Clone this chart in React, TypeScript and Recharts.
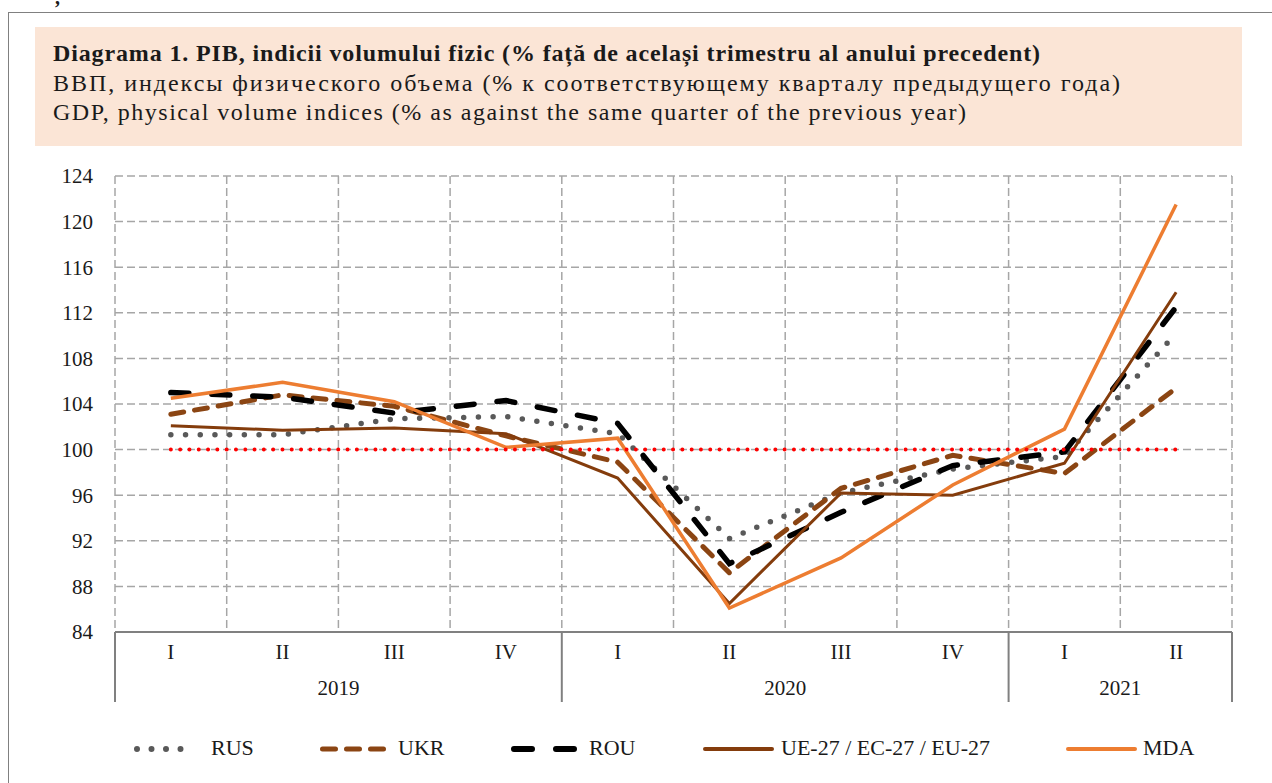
import React from "react";
import { LineChart, Line, XAxis, YAxis, CartesianGrid } from "recharts";

const quarters = ["I", "II", "III", "IV", "I", "II", "III", "IV", "I", "II"];
const years = ["2019", "2019", "2019", "2019", "2020", "2020", "2020", "2020", "2021", "2021"];
const rus = [101.3, 101.3, 102.7, 102.9, 101.4, 92.2, 96.2, 98.3, 99.4, 110.2];
const ukr = [103.1, 104.8, 103.8, 101.2, 98.9, 89.2, 96.6, 99.5, 97.9, 105.4];
const rou = [105.0, 104.6, 103.2, 104.3, 102.3, 90.0, 94.5, 98.6, 99.8, 112.5];
const eu27 = [102.1, 101.7, 101.9, 101.4, 97.5, 86.5, 96.2, 96.0, 98.8, 113.8];
const mda = [104.5, 105.9, 104.2, 100.2, 101.0, 86.1, 90.5, 96.9, 101.8, 121.5];
const base100 = [100, 100, 100, 100, 100, 100, 100, 100, 100, 100];
const yTicks = [84, 88, 92, 96, 100, 104, 108, 112, 116, 120, 124];

const data = quarters.map((q, i) => ({
  key: `${years[i]}-${q}`,
  q,
  year: years[i],
  rus: rus[i],
  ukr: ukr[i],
  rou: rou[i],
  eu27: eu27[i],
  mda: mda[i],
  base: base100[i],
}));

const W = 1272;
const H = 783;
const PLOT_LEFT = 115;
const PLOT_RIGHT = 1232;
const PLOT_TOP = 176;
const PLOT_BOTTOM = 632;
const BAND = (PLOT_RIGHT - PLOT_LEFT) / quarters.length;
const FONT = "'Liberation Serif', serif";
const TEXT = "#1a1a1a";
const BROWN = "#843C0C";
const ORANGE = "#ED7D31";
const GREY = "#595959";

const gridX = Array.from({ length: quarters.length + 1 }, (_, i) => PLOT_LEFT + i * BAND);

function QuarterTick(props: any) {
  const { x, payload } = props;
  const i: number = props.index ?? payload.index ?? 0;
  const row = data[i];
  if (!row) return null;
  const first = i === 0 || years[i - 1] !== row.year;
  const last = i === data.length - 1;
  const groupLen = years.filter((yy) => yy === row.year).length;
  const axisY = PLOT_BOTTOM;
  return (
    <g>
      <text x={x} y={axisY + 27} textAnchor="middle" fontSize={21} fontFamily={FONT} fill={TEXT}>
        {row.q}
      </text>
      {first && (
        <>
          <line x1={x - BAND / 2} x2={x - BAND / 2} y1={axisY} y2={axisY + 70} stroke="#808080" strokeWidth={2} />
          <text
            x={x + ((groupLen - 1) * BAND) / 2}
            y={axisY + 63}
            textAnchor="middle"
            fontSize={21}
            fontFamily={FONT}
            fill={TEXT}
          >
            {row.year}
          </text>
        </>
      )}
      {last && <line x1={x + BAND / 2} x2={x + BAND / 2} y1={axisY} y2={axisY + 70} stroke="#808080" strokeWidth={2} />}
    </g>
  );
}

const legendItems = [
  { label: "RUS", x1: 137, x2: 195, tx: 211, stroke: GREY, w: 6, dash: "0 14.5" },
  { label: "UKR", x1: 322.5, x2: 383.5, tx: 398, stroke: "#8B4513", w: 5, dash: "13 11" },
  { label: "ROU", x1: 514, x2: 575, tx: 589, stroke: "#000", w: 6, dash: "18 24" },
  { label: "UE-27 / EC-27 / EU-27", x1: 705, x2: 772, tx: 781, stroke: BROWN, w: 4, dash: undefined },
  { label: "MDA", x1: 1068, x2: 1135, tx: 1143, stroke: ORANGE, w: 4, dash: undefined },
];

const titleLines = [
  { text: "Diagrama 1. PIB, indicii volumului fizic (% față de același trimestru al anului precedent)", bold: true, len: 987 },
  { text: "ВВП, индексы физического объема (% к соответствующему кварталу предыдущего года)", bold: false, len: 1067 },
  { text: "GDP, physical volume indices (% as against the same quarter of the previous year)", bold: false, len: 913 },
];

export default function App() {
  return (
    <div style={{ position: "fixed", left: 0, top: 0, width: W, height: H, background: "#fff", overflow: "hidden" }}>
      <div style={{ position: "absolute", left: 8, top: 12, right: -4, bottom: -4, borderTop: "1.5px solid #808080", borderLeft: "1.5px solid #808080" }} />
      <div style={{ position: "absolute", left: 35, top: 27, width: 1207, height: 119, background: "#FBE5D6" }} />
      <svg style={{ position: "absolute", left: 0, top: 0 }} width={W} height={150}>
        <text x={55} y={4} fontSize={20} fontWeight={700} fontFamily={FONT} fill={TEXT}>,</text>
        {titleLines.map((l, i) => (
          <text
            key={i}
            x={53}
            y={61 + i * 29.5}
            fontSize={24}
            fontWeight={l.bold ? 700 : 400}
            fontFamily={FONT}
            fill={TEXT}
            textLength={l.len}
            lengthAdjust="spacing"
          >
            {l.text}
          </text>
        ))}
      </svg>
      <div style={{ position: "absolute", left: 0, top: 0 }}>
        <LineChart
          width={W}
          height={H}
          data={data}
          margin={{ top: PLOT_TOP, right: W - PLOT_RIGHT, bottom: 0, left: PLOT_LEFT - 60 }}
        >
          <CartesianGrid stroke="#a6a6a6" strokeWidth={1.5} strokeDasharray="8 4" verticalPoints={gridX} />
          <XAxis
            dataKey="key"
            interval={0}
            padding={{ left: BAND / 2, right: BAND / 2 }}
            tickLine={false}
            tickSize={0}
            axisLine={{ stroke: "#808080", strokeWidth: 2 }}
            tick={<QuarterTick />}
            height={H - PLOT_BOTTOM}
          />
          <YAxis
            width={60}
            domain={[84, 124]}
            ticks={yTicks}
            interval={0}
            axisLine={false}
            tickLine={false}
            tickSize={0}
            tickMargin={22}
            tick={{ fontSize: 21, fontFamily: FONT, fill: TEXT }}
          />
          <Line dataKey="rus" stroke={GREY} strokeWidth={5.5} strokeDasharray="0 14.7" strokeLinecap="round" dot={false} activeDot={false} isAnimationActive={false} />
          <Line dataKey="ukr" stroke="#8B4513" strokeWidth={5} strokeDasharray="13 11" strokeLinecap="round" dot={false} activeDot={false} isAnimationActive={false} />
          <Line dataKey="rou" stroke="#000" strokeWidth={5.5} strokeDasharray="18 23" strokeLinecap="round" dot={false} activeDot={false} isAnimationActive={false} />
          <Line dataKey="eu27" stroke={BROWN} strokeWidth={3} dot={false} activeDot={false} isAnimationActive={false} />
          <Line dataKey="mda" stroke={ORANGE} strokeWidth={3.5} dot={false} activeDot={false} isAnimationActive={false} />
          <Line dataKey="base" stroke="#FF0000" strokeWidth={4} strokeDasharray="0 9.3" strokeLinecap="round" dot={false} activeDot={false} isAnimationActive={false} />
        </LineChart>
      </div>
      <svg style={{ position: "absolute", left: 0, top: 720 }} width={W} height={60}>
        {legendItems.map((it) => (
          <g key={it.label}>
            <line x1={it.x1} x2={it.x2} y1={29} y2={29} stroke={it.stroke} strokeWidth={it.w} strokeDasharray={it.dash} strokeLinecap="round" />
            <text x={it.tx} y={35} fontSize={22} fontFamily={FONT} fill={TEXT}>
              {it.label}
            </text>
          </g>
        ))}
      </svg>
    </div>
  );
}
